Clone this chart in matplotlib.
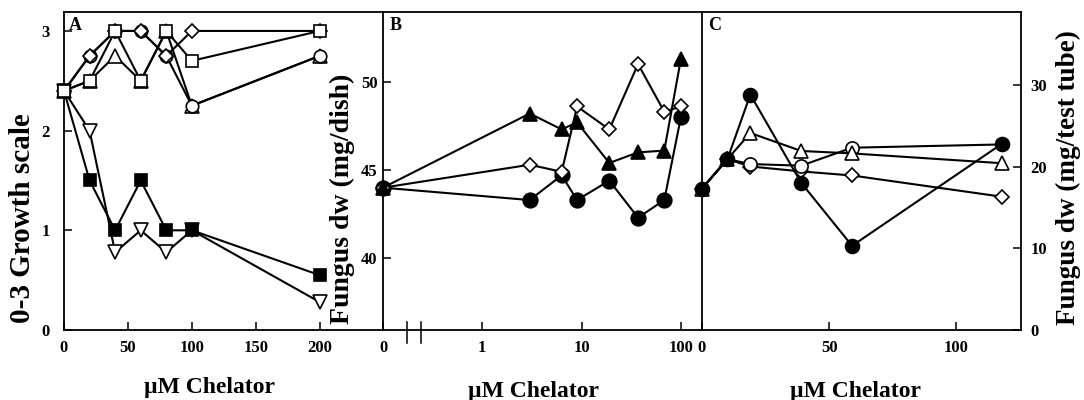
"""
Chelator dose-response: growth scale (A), fungus dry weight on plates (B)
and in test tubes (C).
"""

import numpy as np
import matplotlib
matplotlib.use("Agg")
import matplotlib.pyplot as plt
import matplotlib.transforms as mtransforms

plt.rcParams.update({
    "font.family":      ["Liberation Serif", "DejaVu Serif"],
    "font.weight":      "bold",
    "font.size":        12,
    "axes.linewidth":   1.3,
    "xtick.direction":  "in",
    "ytick.direction":  "in",
    "xtick.major.width": 1.1,
    "ytick.major.width": 1.1,
    "xtick.major.size": 6,
    "ytick.major.size": 6,
})

# ── Data ──────────────────────────────────────────────────────────────────────
# Panel A: 0-3 growth scale
a_conc       = [0, 20, 40, 60, 80, 100, 200]
a_open_sq    = [2.4, 2.5, 3.0, 2.5, 3.0, 2.7, 3.0]
a_diamond    = [2.4, 2.75, 3.0, 3.0, 2.75, 3.0, 3.0]
a_circle     = [2.4, 2.75, 3.0, 3.0, 2.75, 2.25, 2.75]
a_tri_up     = [2.4, 2.5, 2.75, 2.5, 3.0, 2.25, 2.75]
a_filled_sq  = [2.4, 1.5, 1.0, 1.5, 1.0, 1.0, 0.55]
a_tri_down   = [2.4, 2.0, 0.78, 1.0, 0.78, 1.0, 0.28]

# Panel B: fungus dw (mg/dish), log concentration axis
b_conc       = [0, 3, 6.3, 9, 19, 37, 68, 100]
b_filled_tri = [44.0, 48.2, 47.3, 47.7, 45.4, 46.0, 46.1, 51.3]
b_diamond    = [44.0, 45.3, 44.9, 48.6, 47.3, 51.0, 48.3, 48.6]
b_filled_ci  = [44.0, 43.3, 44.7, 43.3, 44.4, 42.3, 43.3, 48.0]

# Panel C: fungus dw (mg/test tube)
c_conc       = [0, 10, 19, 39, 59, 118]
c_filled_ci  = [17.3, 20.9, 28.8, 18.0, 10.3, 22.8]
c_open_tri   = [17.3, 20.9, 24.1, 21.9, 21.6, 20.4]
c_open_ci    = [17.3, 20.9, 20.3, 20.1, 22.3, 22.7]
c_diamond    = [17.3, 20.9, 20.0, 19.4, 18.9, 16.3]

B_ZERO = 0.1          # where "0" sits on the log axis of panel B

LW = 1.5
MEW = 1.2

fig = plt.figure(figsize=(10.84, 4.0), dpi=100)

W, H = 1084, 400
def _rect(x0, x1, y_top=12, y_bot=330):
    return [x0 / W, 1 - y_bot / H, (x1 - x0) / W, (y_bot - y_top) / H]

ax_a = fig.add_axes(_rect(64, 383))
ax_b = fig.add_axes(_rect(383, 702))
ax_c = fig.add_axes(_rect(702, 1021))


def _series(ax, x, y, marker, filled, ms):
    ax.plot(x, y, color="black", lw=LW, marker=marker, ms=ms,
            mfc="black" if filled else "white", mec="black", mew=MEW,
            clip_on=False, zorder=3)


# ── Panel A ──────────────────────────────────────────────────────────────────
_series(ax_a, a_conc, a_tri_down,  "v", False, 9.5)
_series(ax_a, a_conc, a_filled_sq, "s", True,  9)
_series(ax_a, a_conc, a_tri_up,    "^", False, 9.5)
_series(ax_a, a_conc, a_circle,    "o", False, 9)
_series(ax_a, a_conc, a_diamond,   "D", False, 7.5)
_series(ax_a, a_conc, a_open_sq,   "s", False, 9)

ax_a.set_xlim(0, 249.5)
ax_a.set_ylim(0, 3.19)
ax_a.set_xticks([0, 50, 100, 150, 200])
ax_a.set_yticks([0, 1, 2, 3])
ax_a.tick_params(axis="x", pad=7)
ax_a.tick_params(axis="y", pad=10)
ax_a.spines["right"].set_visible(False)
ax_a.text(0.014, 0.985, "A", transform=ax_a.transAxes, ha="left", va="top",
          fontsize=13)

# ── Panel B ──────────────────────────────────────────────────────────────────
def _bx(conc):
    return [B_ZERO if c == 0 else c for c in conc]

_series(ax_b, _bx(b_conc), b_filled_ci,  "o", True,  10.5)
_series(ax_b, _bx(b_conc), b_diamond,    "D", False, 7.5)
_series(ax_b, _bx(b_conc), b_filled_tri, "^", True,  10.5)

ax_b.set_xscale("log")
ax_b.set_xlim(B_ZERO, 163)
ax_b.set_ylim(35.94, 53.95)
ax_b.set_xticks([B_ZERO, 1, 10, 100])
ax_b.set_xticklabels(["0", "1", "10", "100"])
ax_b.xaxis.set_minor_locator(matplotlib.ticker.NullLocator())
ax_b.set_yticks([40, 45, 50])
ax_b.tick_params(axis="x", pad=7)
ax_b.tick_params(axis="y", pad=4)
ax_b.spines["right"].set_visible(False)
ax_b.text(0.02, 0.985, "B", transform=ax_b.transAxes, ha="left", va="top",
          fontsize=13)

# axis break marks
brk = mtransforms.blended_transform_factory(ax_b.transData, ax_b.transAxes)
for xb in (0.175, 0.242):
    ax_b.plot([xb, xb], [0.026, -0.04], color="black", lw=1.1,
              transform=brk, clip_on=False)

# ── Panel C ──────────────────────────────────────────────────────────────────
_series(ax_c, c_conc, c_diamond,   "D", False, 7.5)
_series(ax_c, c_conc, c_open_ci,   "o", False, 9.5)
_series(ax_c, c_conc, c_open_tri,  "^", False, 10)
_series(ax_c, c_conc, c_filled_ci, "o", True,  10)

ax_c.set_xlim(0, 125.4)
ax_c.set_ylim(0, 38.9)
ax_c.set_xticks([0, 50, 100])
ax_c.set_yticks([0, 10, 20, 30])
ax_c.yaxis.tick_right()
ax_c.tick_params(axis="x", pad=7)
ax_c.tick_params(axis="y", pad=7)
ax_c.text(0.02, 0.985, "C", transform=ax_c.transAxes, ha="left", va="top",
          fontsize=13)

for ax in (ax_a, ax_b, ax_c):
    for lab in ax.get_xticklabels() + ax.get_yticklabels():
        lab.set_fontweight("bold")

# ── Axis titles ──────────────────────────────────────────────────────────────
lab_kw = dict(fontweight="bold", ha="center", va="center")
fig.text(23 / W, 1 - 218 / H, "0-3 Growth scale", rotation=90,
         fontsize=21, **lab_kw)
fig.text(342 / W, 1 - 199 / H, "Fungus dw (mg/dish)", rotation=90,
         fontsize=20, **lab_kw)
fig.text(1068 / W, 1 - 178 / H, "Fungus dw (mg/test tube)", rotation=90,
         fontsize=19.5, **lab_kw)
fig.text(209 / W, 1 - 387 / H, "µM Chelator", fontsize=17, **lab_kw)
fig.text(534 / W, 1 - 391 / H, "µM Chelator", fontsize=17, **lab_kw)
fig.text(855 / W, 1 - 391 / H, "µM Chelator", fontsize=17, **lab_kw)

fig.savefig("out.png", dpi=100)
